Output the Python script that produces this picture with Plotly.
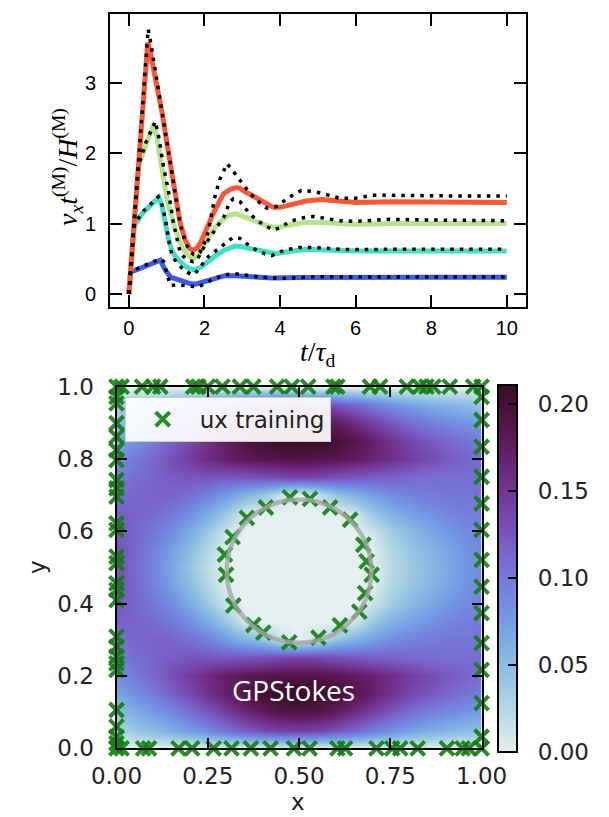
import plotly.graph_objects as go

W, H = 609, 817

# ---------------- top panel data ----------------
t_red = [0, 0.5, 0.57, 0.70, 0.88, 1.05, 1.2, 1.36, 1.49, 1.6, 1.68, 1.8, 1.9, 2.05, 2.24, 2.5, 2.7, 2.85, 2.94, 3.15, 3.38, 3.6, 3.82, 4.0, 4.3, 4.69, 5.1, 5.5, 6.0, 7.0, 8.0, 9.0, 10.0]
v_red = [0, 3.57, 3.42, 3.09, 2.57, 2.0, 1.46, 1.0, 0.77, 0.65, 0.62, 0.65, 0.73, 0.92, 1.15, 1.42, 1.49, 1.51, 1.50, 1.43, 1.36, 1.28, 1.23, 1.23, 1.27, 1.32, 1.34, 1.32, 1.30, 1.31, 1.31, 1.30, 1.30]
t_red_ref = [0, 0.51, 0.6, 0.75, 0.9, 1.05, 1.2, 1.36, 1.5, 1.62, 1.72, 1.82, 1.89, 2.02, 2.11, 2.18, 2.26, 2.4, 2.6, 2.75, 2.94, 3.2, 3.45, 3.64, 3.9, 4.2, 4.56, 4.95, 5.3, 5.57, 6.0, 6.45, 7.0, 8.0, 9.0, 10.0]
v_red_ref = [0, 3.76, 3.5, 3.0, 2.5, 2.0, 1.45, 0.98, 0.73, 0.6, 0.56, 0.56, 0.6, 0.75, 0.9, 1.10, 1.35, 1.62, 1.85, 1.75, 1.61, 1.43, 1.30, 1.22, 1.24, 1.36, 1.47, 1.45, 1.40, 1.36, 1.36, 1.40, 1.40, 1.39, 1.39, 1.39]

t_green = [0, 0.25, 0.45, 0.66, 0.75, 0.83, 0.92, 1.01, 1.1, 1.2, 1.36, 1.45, 1.6, 1.71, 1.85, 2.06, 2.25, 2.41, 2.6, 2.81, 2.94, 3.15, 3.38, 3.6, 3.82, 4.0, 4.26, 4.6, 4.96, 5.5, 6.0, 7.0, 8.0, 9.0, 10.0]
v_green = [0, 1.80, 2.12, 2.41, 2.2, 1.9, 1.6, 1.34, 1.17, 0.96, 0.72, 0.63, 0.53, 0.50, 0.55, 0.77, 0.92, 1.02, 1.10, 1.14, 1.12, 1.07, 1.03, 0.98, 0.95, 0.95, 0.98, 1.01, 1.02, 1.0, 0.99, 1.0, 1.0, 1.0, 1.0]
t_green_ref = [0, 0.25, 0.45, 0.70, 0.8, 0.9, 1.04, 1.18, 1.36, 1.5, 1.6, 1.7, 1.8, 2.02, 2.28, 2.54, 2.66, 2.76, 2.94, 3.15, 3.38, 3.6, 3.82, 4.0, 4.26, 4.6, 4.9, 5.2, 5.57, 6.0, 6.5, 6.9, 8.0, 9.0, 10.0]
v_green_ref = [0, 1.82, 2.15, 2.45, 2.2, 1.85, 1.48, 1.0, 0.58, 0.5, 0.47, 0.46, 0.48, 0.70, 0.91, 1.12, 1.30, 1.35, 1.31, 1.17, 1.05, 0.97, 0.91, 0.94, 1.03, 1.08, 1.10, 1.07, 1.04, 1.03, 1.05, 1.06, 1.05, 1.04, 1.04]

t_cyan = [0, 0.135, 0.35, 0.6, 0.79, 0.88, 0.97, 1.05, 1.14, 1.23, 1.45, 1.6, 1.74, 1.9, 2.1, 2.3, 2.54, 2.81, 2.98, 3.38, 3.6, 3.78, 3.9, 4.2, 4.69, 5.2, 6.0, 7.0, 8.0, 9.0, 10.0]
v_cyan = [0, 0.96, 1.14, 1.27, 1.37, 1.24, 1.0, 0.77, 0.62, 0.53, 0.41, 0.36, 0.34, 0.38, 0.46, 0.55, 0.625, 0.68, 0.67, 0.625, 0.59, 0.57, 0.57, 0.60, 0.635, 0.625, 0.61, 0.61, 0.61, 0.61, 0.61]
t_cyan_ref = [0, 0.135, 0.35, 0.6, 0.78, 0.86, 0.95, 1.07, 1.14, 1.27, 1.45, 1.67, 1.8, 2.1, 2.54, 2.75, 2.94, 3.15, 3.38, 3.6, 3.78, 4.1, 4.5, 4.9, 5.57, 6.0, 7.0, 8.0, 9.0, 10.0]
v_cyan_ref = [0, 0.97, 1.16, 1.29, 1.38, 1.3, 1.10, 0.72, 0.55, 0.44, 0.34, 0.27, 0.32, 0.53, 0.72, 0.80, 0.79, 0.70, 0.62, 0.57, 0.545, 0.62, 0.66, 0.66, 0.635, 0.63, 0.635, 0.635, 0.635, 0.635]

t_blue = [0, 0.045, 0.83, 0.95, 1.1, 1.4, 1.6, 1.76, 1.95, 2.19, 2.54, 2.81, 3.2, 3.82, 4.5, 5.0, 6.0, 8.0, 10.0]
v_blue = [0, 0.31, 0.48, 0.35, 0.24, 0.175, 0.15, 0.14, 0.17, 0.22, 0.26, 0.26, 0.245, 0.225, 0.235, 0.237, 0.237, 0.237, 0.237]
t_blue_ref = [0, 0.045, 0.83, 0.92, 1.0, 1.1, 1.27, 1.6, 1.84, 2.2, 2.5, 2.8, 3.3, 4.0, 5.0, 6.0, 8.0, 10.0]
v_blue_ref = [0, 0.32, 0.50, 0.46, 0.3, 0.12, 0.13, 0.11, 0.10, 0.2, 0.27, 0.29, 0.25, 0.22, 0.245, 0.24, 0.24, 0.24]

top_xticks = [0, 2, 4, 6, 8, 10]
top_yticks = [0, 1, 2, 3]

# ---------------- bottom panel data ----------------
grid_x = [0.00, 0.05, 0.10, 0.15, 0.20, 0.25, 0.30, 0.35, 0.40, 0.45, 0.50,
          0.55, 0.60, 0.65, 0.70, 0.75, 0.80, 0.85, 0.90, 0.95, 1.00]
grid_y = list(grid_x)
ux_field = [
    [0, 0, 0, 0, 0, 0, 0, 0, 0, 0, 0, 0, 0, 0, 0, 0, 0, 0, 0, 0, 0],
    [.028, .040, .050, .062, .074, .088, .104, .120, .132, .139, .141, .137, .128, .113, .098, .084, .072, .063, .056, .050, .045],
    [.047, .062, .076, .090, .106, .124, .144, .163, .178, .188, .192, .188, .177, .161, .142, .124, .110, .098, .089, .082, .075],
    [.066, .083, .099, .116, .134, .154, .173, .190, .201, .208, .211, .208, .200, .188, .171, .154, .138, .125, .114, .105, .097],
    [.083, .099, .113, .129, .145, .160, .172, .181, .186, .189, .190, .188, .184, .177, .167, .157, .145, .134, .124, .116, .108],
    [.097, .107, .115, .121, .125, .126, .125, .126, .130, .136, .140, .137, .130, .124, .120, .117, .112, .108, .108, .108, .108],
    [.109, .113, .117, .115, .108, .095, .075, .058, .042, .015, 0, .015, .042, .058, .072, .085, .092, .098, .101, .103, .104],
    [.118, .115, .110, .100, .085, .064, .040, .008, 0, 0, 0, 0, 0, .008, .040, .058, .070, .080, .089, .095, .098],
    [.124, .115, .102, .086, .064, .040, .012, 0, 0, 0, 0, 0, 0, 0, .012, .034, .050, .064, .076, .086, .093],
    [.128, .113, .094, .072, .050, .026, .003, 0, 0, 0, 0, 0, 0, 0, .003, .025, .039, .053, .067, .080, .090],
    [.130, .112, .090, .066, .043, .019, 0, 0, 0, 0, 0, 0, 0, 0, 0, .022, .035, .049, .063, .077, .088],
    [.128, .113, .094, .072, .050, .026, .003, 0, 0, 0, 0, 0, 0, 0, .003, .025, .039, .053, .067, .080, .090],
    [.124, .115, .102, .086, .064, .040, .012, 0, 0, 0, 0, 0, 0, 0, .012, .034, .050, .064, .076, .086, .093],
    [.118, .115, .110, .100, .085, .064, .040, .008, 0, 0, 0, 0, 0, .008, .040, .058, .070, .080, .089, .095, .098],
    [.109, .113, .117, .115, .108, .095, .075, .058, .042, .015, 0, .015, .042, .058, .072, .085, .092, .098, .101, .103, .104],
    [.097, .107, .115, .121, .125, .126, .125, .126, .130, .136, .140, .137, .130, .124, .120, .117, .112, .108, .108, .108, .108],
    [.083, .099, .113, .129, .145, .160, .172, .181, .186, .189, .190, .188, .184, .177, .167, .157, .145, .134, .124, .116, .108],
    [.066, .083, .099, .116, .134, .154, .173, .190, .201, .208, .211, .208, .200, .188, .171, .154, .138, .125, .114, .105, .097],
    [.047, .062, .076, .090, .106, .124, .144, .163, .178, .188, .192, .188, .177, .161, .142, .124, .110, .098, .089, .082, .075],
    [.028, .040, .050, .062, .074, .088, .104, .120, .132, .139, .141, .137, .128, .113, .098, .084, .072, .063, .056, .050, .045],
    [0, 0, 0, 0, 0, 0, 0, 0, 0, 0, 0, 0, 0, 0, 0, 0, 0, 0, 0, 0, 0],
]
ux_max = 0.211
cbar_ticks = [0.00, 0.05, 0.10, 0.15, 0.20]
hm_xticks = [0.0, 0.25, 0.5, 0.75, 1.0]
hm_yticks = [0.0, 0.2, 0.4, 0.6, 0.8, 1.0]

cyl_center = (0.5, 0.49)
cyl_radius = 0.198

bottom_x = [0.0, 0.014, 0.073, 0.089, 0.17, 0.207, 0.266, 0.315, 0.368, 0.422, 0.486, 0.529, 0.605, 0.626, 0.712, 0.755, 0.777, 0.825, 0.905, 0.948, 0.965, 1.0]
top_x = [0.0, 0.014, 0.07, 0.10, 0.12, 0.21, 0.224, 0.25, 0.29, 0.338, 0.375, 0.44, 0.48, 0.525, 0.594, 0.605, 0.694, 0.722, 0.795, 0.831, 0.849, 0.868, 0.913, 0.977, 1.0]
left_y = [0.972, 0.954, 0.899, 0.862, 0.825, 0.797, 0.742, 0.719, 0.696, 0.622, 0.604, 0.530, 0.512, 0.456, 0.438, 0.410, 0.309, 0.281, 0.254, 0.235, 0.217, 0.106, 0.060, 0.032, 0.014]
right_y = [0.972, 0.908, 0.834, 0.751, 0.677, 0.604, 0.521, 0.447, 0.374, 0.291, 0.217, 0.125, 0.032]
circle_x = [0.475, 0.530, 0.585, 0.640, 0.676, 0.685, 0.699, 0.681, 0.665, 0.612, 0.553, 0.473, 0.402, 0.375, 0.320, 0.300, 0.297, 0.318, 0.357, 0.409]
circle_y = [0.694, 0.690, 0.666, 0.632, 0.563, 0.517, 0.480, 0.429, 0.378, 0.340, 0.306, 0.293, 0.320, 0.341, 0.395, 0.480, 0.536, 0.584, 0.637, 0.666]

train_x = bottom_x + top_x + [0.0] * len(left_y) + [1.0] * len(right_y) + circle_x
train_y = [0.0] * len(bottom_x) + [1.0] * len(top_x) + left_y + right_y + circle_y

# ---------------- figure ----------------
fig = go.Figure()

solid = [
    (t_blue, v_blue, '#3d5af1'),
    (t_cyan, v_cyan, '#3fe0c8'),
    (t_green, v_green, '#b5e48c'),
    (t_red, v_red, '#ff5733'),
]
for t, v, c in solid:
    fig.add_trace(go.Scatter(x=t, y=v, mode='lines', line=dict(color=c, width=5),
                             showlegend=False, xaxis='x', yaxis='y'))
for t, v in [(t_blue_ref, v_blue_ref), (t_cyan_ref, v_cyan_ref),
             (t_green_ref, v_green_ref), (t_red_ref, v_red_ref)]:
    fig.add_trace(go.Scatter(x=t, y=v, mode='lines',
                             line=dict(color='black', width=3.5, dash='3.5px,6px'),
                             showlegend=False, xaxis='x', yaxis='y'))

NB = '\u00a0'
fig.add_trace(go.Heatmap(
    x=grid_x, y=grid_y, z=ux_field, zsmooth='best', colorscale='dense',
    zmin=0, zmax=ux_max, xaxis='x2', yaxis='y2', showscale=True,
    colorbar=dict(
        x=498.3 / W, xanchor='left', xpad=0, y=1 - 568 / H, yanchor='middle', ypad=0,
        len=367, lenmode='pixels', thickness=19, thicknessmode='pixels',
        outlinewidth=2, outlinecolor='black',
        tickvals=cbar_ticks, ticktext=[NB + NB + f'{v:.2f}' for v in cbar_ticks],
        ticks='inside', ticklen=10, tickwidth=2, tickcolor='black',
        tickfont=dict(family='DejaVu Sans', size=23, color='#222222'),
    ),
))

fig.add_trace(go.Scatter(
    x=train_x, y=train_y, mode='markers', name='ux training',
    marker=dict(symbol='x-thin', size=14, color='rgba(16,128,16,0.9)',
                line=dict(width=4, color='rgba(16,128,16,0.9)')),
    cliponaxis=False, xaxis='x2', yaxis='y2', showlegend=True,
))

cx, cy = cyl_center
fig.add_shape(type='circle', xref='x2', yref='y2',
              x0=cx - cyl_radius, x1=cx + cyl_radius, y0=cy - cyl_radius, y1=cy + cyl_radius,
              line=dict(color='rgba(165,165,165,0.8)', width=4.5), layer='above')

axis_common = dict(showgrid=False, zeroline=False, showline=True, linecolor='black',
                   linewidth=2, mirror='ticks', ticks='inside', tickcolor='black',
                   automargin=False)

fig.update_layout(
    width=W, height=H, autosize=False,
    margin=dict(l=0, r=0, t=0, b=0, pad=0, autoexpand=False),
    paper_bgcolor='white', plot_bgcolor='white',
    xaxis=dict(domain=[110 / W, 525.7 / W], range=[-0.5, 10.5], tickvals=top_xticks,
               ticklen=12, tickwidth=2, ticklabelstandoff=2,
               tickfont=dict(family='Liberation Sans', size=20, color='black'),
               anchor='y', **axis_common),
    yaxis=dict(domain=[1 - 307 / H, 1 - 14 / H], range=[-0.185, 3.975], tickvals=top_yticks,
               ticklen=12, tickwidth=2, ticklabelstandoff=8,
               tickfont=dict(family='Liberation Sans', size=20, color='black'),
               anchor='x', **axis_common),
    xaxis2=dict(domain=[116.5 / W, 481.6 / W], range=[0, 1], tickvals=hm_xticks,
                ticktext=[f'{v:.2f}' for v in hm_xticks],
                ticklen=10, tickwidth=2, ticklabelstandoff=6,
                tickfont=dict(family='DejaVu Sans', size=23, color='#222222'),
                anchor='y2', **axis_common),
    yaxis2=dict(domain=[1 - 748.3 / H, 1 - 386.7 / H], range=[0, 1], tickvals=hm_yticks,
                ticktext=[f'{v:.1f}' for v in hm_yticks],
                ticklen=10, tickwidth=2, ticklabelstandoff=16,
                tickfont=dict(family='DejaVu Sans', size=23, color='#222222'),
                anchor='x2', **axis_common),
    legend=dict(x=124.7 / W, y=1 - 396.7 / H, xanchor='left', yanchor='top',
                bgcolor='rgba(255,255,255,0.92)', bordercolor='#cccccc', borderwidth=1,
                font=dict(family='DejaVu Sans', size=23, color='#222222'),
                itemwidth=64, tracegroupgap=0),
    annotations=[
        dict(text='<i>v<sub>x</sub>t</i><sup>(M)</sup>/<i>H</i><sup>(M)</sup>',
             x=67 / W, y=1 - 167 / H, xref='paper', yref='paper', textangle=-90,
             xanchor='center', yanchor='middle',
             showarrow=False, font=dict(family='Liberation Serif', size=28, color='black')),
        dict(text='<i>t</i>/<i>τ</i><sub>d</sub>',
             x=318 / W, y=1 - 353 / H, xref='paper', yref='paper',
             xanchor='center', yanchor='middle',
             showarrow=False, font=dict(family='Liberation Serif', size=28, color='black')),
        dict(text='x', x=298 / W, y=1 - 802 / H, xref='paper', yref='paper',
             xanchor='center', yanchor='middle',
             showarrow=False, font=dict(family='DejaVu Sans', size=23, color='#222222')),
        dict(text='y', x=37 / W, y=1 - 567 / H, xref='paper', yref='paper', textangle=-90,
             xanchor='center', yanchor='middle',
             showarrow=False, font=dict(family='DejaVu Sans', size=23, color='#222222')),
        dict(text='GPStokes', x=0.486, y=0.16, xref='x2', yref='y2',
             xanchor='center', yanchor='middle',
             showarrow=False, font=dict(family='Open Sans', size=28, color='white')),
    ],
)

fig.write_html('out.html', config={'displayModeBar': False},
               post_script="document.body.style.margin='0px';")
